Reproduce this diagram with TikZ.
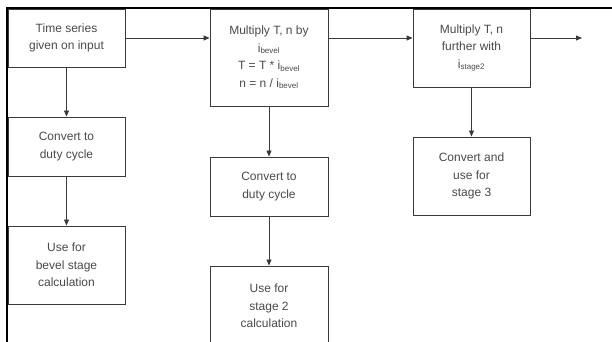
\documentclass[tikz,border=0pt]{standalone}
\usepackage{fontspec}
\setmainfont{Liberation Sans}
\usetikzlibrary{arrows.meta}
\definecolor{linec}{HTML}{3A3A3A}
\definecolor{textc}{HTML}{4A4A4A}
\begin{document}
\begin{tikzpicture}[x=1pt,y=-1pt,
  box/.style={draw=linec, line width=0.9pt, fill=white, text=textc, align=center,
    font=\fontsize{12}{17.5}\selectfont, inner sep=0pt},
  arr/.style={draw=linec, line width=0.8pt, -{Triangle[length=6pt,width=5pt]}}]
\useasboundingbox (0,0) rectangle (612,342);
\begin{scope}
\clip (0,0) rectangle (612,342);
\node[box, minimum width=117, minimum height=58] (b1) at (66.5,38) {Time series\\given on input};
\node[box, minimum width=117, minimum height=59] (b4) at (66.5,146.5) {Convert to\\duty cycle};
\node[box, minimum width=117, minimum height=78] (b5) at (66.5,265) {Use for\\bevel stage\\calculation};
\node[box, minimum width=118, minimum height=97] (b2) at (269,57.5) {Multiply T, n by\\i\textsubscript{bevel}\\T = T * i\textsubscript{bevel}\\n = n / i\textsubscript{bevel}};
\node[box, minimum width=118, minimum height=59] (b6) at (269,186.5) {Convert to\\duty cycle};
\node[box, minimum width=118, minimum height=80] (b7) at (269,306) {Use for\\stage 2\\calculation};
\node[box, minimum width=117, minimum height=78] (b3) at (471.5,48) {Multiply T, n\\further with\\i\textsubscript{stage2}};
\node[box, minimum width=117, minimum height=78] (b8) at (471.5,176) {Convert and\\use for\\stage 3};
\coordinate (out) at (582,38);
\draw[arr] (b1.east) -- (b1.east -| b2.west);
\draw[arr] (b2.east |- b1.east) -- (b3.west |- b1.east);
\draw[arr] (b3.east |- b1.east) -- (out);
\draw[arr] (b1.south) -- (b4.north);
\draw[arr] (b4.south) -- (b5.north);
\draw[arr] (b2.south) -- (b6.north);
\draw[arr] (b6.south) -- (b7.north);
\draw[arr] (b3.south) -- (b8.north);
\end{scope}
\draw[line width=1.2pt, black] (7,342) -- (7,8) -- (612,8);
\end{tikzpicture}
\end{document}
